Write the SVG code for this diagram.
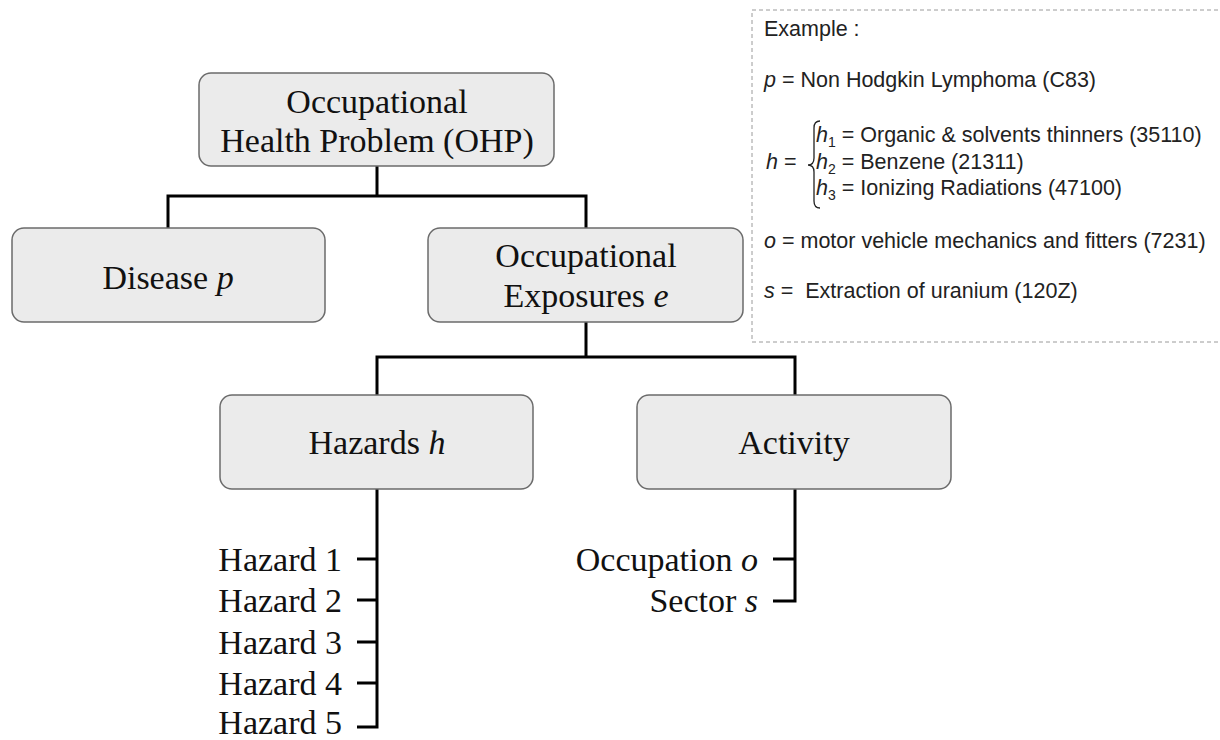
<svg xmlns="http://www.w3.org/2000/svg" width="1220" height="740" viewBox="0 0 1220 740">
<style>
.box{fill:#ebebeb;stroke:#6b6b6b;stroke-width:1.5}
.t{font-family:"Liberation Serif","Times New Roman",serif;font-size:34px;fill:#111}
.c{text-anchor:middle}
.e{text-anchor:end}
.i{font-style:italic}
.conn{fill:none;stroke:#000;stroke-width:3;stroke-linejoin:miter;stroke-linecap:butt}
.ex{font-family:"Liberation Sans",Arial,sans-serif;font-size:21.5px;fill:#222}
.sub{font-size:14px}
</style>
<rect width="1220" height="740" fill="#fff"/>
<g id="connectors">
<path class="conn" d="M377 166V196M168 228V196H586V228"/>
<path class="conn" d="M586 322V357M377 395V357H795V395"/>
<path class="conn" d="M377 489V727H357M357 559H377M357 600H377M357 642H377M357 683H377"/>
<path class="conn" d="M795 489V601H773M773 559H795"/>
</g>
<g id="ohp">
<rect class="box" x="199" y="73" width="355" height="93" rx="12"/>
<text class="t c" x="377" y="113">Occupational</text>
<text class="t c" x="377" y="152">Health Problem (OHP)</text>
</g>
<g id="disease">
<rect class="box" x="12" y="228" width="313" height="94" rx="12"/>
<text class="t c" x="168" y="289">Disease <tspan class="i">p</tspan></text>
</g>
<g id="exposures">
<rect class="box" x="428" y="228" width="315" height="94" rx="12"/>
<text class="t c" x="586" y="267">Occupational</text>
<text class="t c" x="586" y="307">Exposures <tspan class="i">e</tspan></text>
</g>
<g id="hazards">
<rect class="box" x="220" y="395" width="313" height="94" rx="12"/>
<text class="t c" x="377" y="454">Hazards <tspan class="i">h</tspan></text>
</g>
<g id="activity">
<rect class="box" x="637" y="395" width="314" height="94" rx="12"/>
<text class="t c" x="794" y="454">Activity</text>
</g>
<g id="hazard-list">
<text class="t e" x="342" y="571">Hazard 1</text>
<text class="t e" x="342" y="612">Hazard 2</text>
<text class="t e" x="342" y="654">Hazard 3</text>
<text class="t e" x="342" y="695">Hazard 4</text>
<text class="t e" x="342" y="734">Hazard 5</text>
</g>
<g id="activity-list">
<text class="t e" x="758" y="571">Occupation <tspan class="i">o</tspan></text>
<text class="t e" x="758" y="612">Sector <tspan class="i">s</tspan></text>
</g>
<g id="example">
<rect x="752" y="10" width="480" height="332" fill="none" stroke="#9a9a9a" stroke-width="1" stroke-dasharray="4 3"/>
<text class="ex" x="764" y="36">Example :</text>
<text class="ex" x="764" y="87"><tspan class="i">p</tspan> = Non Hodgkin Lymphoma (C83)</text>
<text class="ex" x="766" y="169"><tspan class="i">h</tspan> =</text>
<path d="M820 121Q814 121 814 128V158Q814 165 808 165Q814 165 814 172V201Q814 208 820 208" fill="none" stroke="#222" stroke-width="1.3"/>
<text class="ex" x="816" y="142"><tspan class="i">h</tspan><tspan class="sub" dy="5">1</tspan><tspan dy="-5"> = Organic &amp; solvents thinners (35110)</tspan></text>
<text class="ex" x="816" y="169"><tspan class="i">h</tspan><tspan class="sub" dy="5">2</tspan><tspan dy="-5"> = Benzene (21311)</tspan></text>
<text class="ex" x="816" y="195"><tspan class="i">h</tspan><tspan class="sub" dy="5">3</tspan><tspan dy="-5"> = Ionizing Radiations (47100)</tspan></text>
<text class="ex" x="764" y="248"><tspan class="i">o</tspan> = motor vehicle mechanics and fitters (7231)</text>
<text class="ex" x="764" y="298" xml:space="preserve"><tspan class="i">s</tspan> =  Extraction of uranium (120Z)</text>
</g>
</svg>
